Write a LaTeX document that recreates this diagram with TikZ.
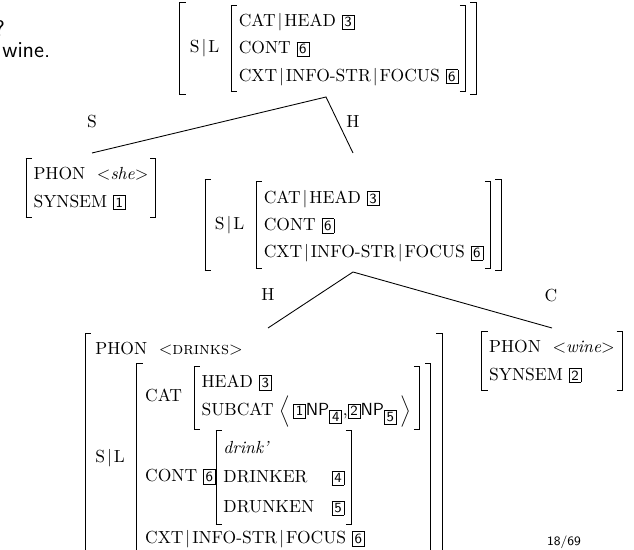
\documentclass[tikz,border=0pt]{standalone}
\renewcommand{\arraystretch}{1.3}
\newlength{\brw}\setlength{\brw}{0.45pt}
\newlength{\brt}\setlength{\brt}{3.5pt}
\newlength{\brp}\setlength{\brp}{1.5pt}
\newcommand{\lbrk}{\rlap{\vrule width\brt height\dimen0 depth-\dimexpr\dimen0-\brw\relax}\rlap{\vrule width\brt height-\dimexpr\dimen2-\brw\relax depth\dimen2}\vrule width\brw height\dimen0 depth\dimen2}
\newcommand{\rbrk}{\vrule width\brw height\dimen0 depth\dimen2\llap{\vrule width\brt height\dimen0 depth-\dimexpr\dimen0-\brw\relax}\llap{\vrule width\brt height-\dimexpr\dimen2-\brw\relax depth\dimen2}}
% \avmx{left pad}{right pad}{column spec}{rows}
\newcommand{\avmx}[4]{\hbox{\setbox0=\hbox{\begin{tabular}{@{\hspace{#1}}#3@{\hspace{#2}}}#4\end{tabular}}%
\dimen0=\ht0 \advance\dimen0 by\brp
\dimen2=\dp0 \advance\dimen2 by\brp
\lbrk\box0\rbrk}}
\newcommand{\avm}[1]{\avmx{4pt}{4pt}{l}{#1}}
\newcommand{\avmo}[1]{\avmx{5.5pt}{6pt}{l}{#1}}
\newcommand{\tg}[1]{{\setlength{\fboxsep}{1.1pt}\setlength{\fboxrule}{0.4pt}\fbox{\sffamily\footnotesize #1}}}
\newcommand{\pb}{$\mkern2mu|\mkern2mu$}
\newcommand{\slavm}{\avmx{5.5pt}{5.5pt}{l}{S\pb L\ \ \avm{CAT\pb HEAD\ \tg{3}\\ CONT\ \tg{6}\\ CXT\pb INFO-STR\pb FOCUS\ \tg{6}}}}
\begin{document}
\begin{tikzpicture}[x=0.5714pt,y=-0.5714pt,
  avmnode/.style={inner sep=0pt, outer sep=0pt},
  lbl/.style={inner sep=0pt},
  edge/.style={line width=0.5pt},
  slide/.style={inner sep=0pt, font=\sffamily\fontsize{13}{15}\selectfont}]
\useasboundingbox (0,0) rectangle (634,550);
\fill[white] (0,0) rectangle (634,550);
\clip (0,0) rectangle (634,550);
\node[slide, anchor=base west] (q) at (-6,37) {?};
\node[slide, anchor=base west] (w) at (2,58) {wine.};
\node[avmnode] (root) at (328,48.5) {\slavm};
\node[avmnode] (she) at (91,188) {\avm{PHON\ \ $<$\textit{she}$>$\\ SYNSEM\ \tg{1}}};
\node[avmnode] (mid) at (353,225) {\slavm};
\node[avmnode] (wine) at (552,361) {\avm{PHON\ \ $<$\textit{wine}$>$\\ SYNSEM\ \tg{2}}};
\node[avmnode, anchor=north west] (drinks) at (85,333) {\avmo{%
PHON\ \ $<$\textsc{drinks}$>$\\
S\pb L\ \ \avmx{4.5pt}{6pt}{l}{%
 CAT\ \ \avmx{4pt}{4.5pt}{l}{HEAD\ \tg{3}\\ {\fontsize{10}{12}\selectfont SUBCAT}\ $\Big\langle\,$\tg{1}\textsf{NP}$_{\tg{4}}$,\tg{2}\textsf{NP}$_{\tg{5}}$$\,\Big\rangle$}\\[6pt]
 CONT\ \tg{6}{\renewcommand{\arraystretch}{1.42}\avmx{4pt}{4pt}{l@{\hspace{10pt}}l}{\textit{drink'} & \\ DRINKER & \tg{4}\\ DRUNKEN & \tg{5}}}\\
 CXT\pb INFO-STR\pb FOCUS\ \tg{6}}}};
\node[lbl] (ls) at (92,122) {S};
\node[lbl] (lh1) at (353,122) {H};
\node[lbl] (lh2) at (268,295) {H};
\node[lbl] (lc) at (551,296) {C};
\coordinate (ap1) at (326,97);
\coordinate (e1s) at (92,153);
\coordinate (e1h) at (353,153);
\coordinate (ap2) at (353,272);
\coordinate (e2h) at (268,328);
\coordinate (e2c) at (552,328);
\draw[edge] (e1s) -- (ap1) -- (e1h);
\draw[edge] (e2h) -- (ap2) -- (e2c);
\node[inner sep=0pt, font=\sffamily\fontsize{7.3}{9}\selectfont] (pg) at (564,542) {18/69};
\end{tikzpicture}
\end{document}
